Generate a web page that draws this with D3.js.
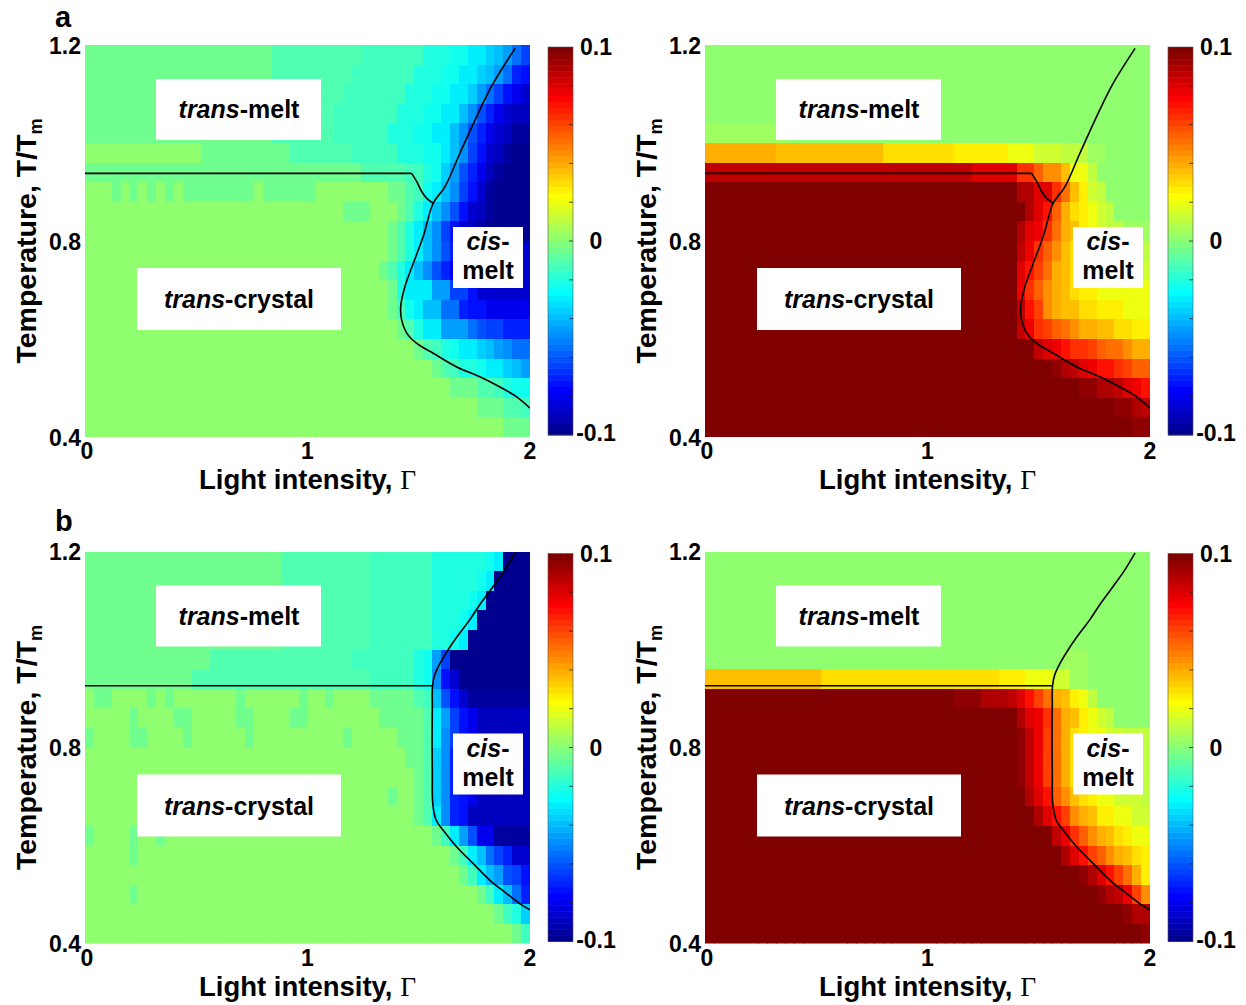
<!DOCTYPE html>
<html><head><meta charset="utf-8">
<script src="https://cdnjs.cloudflare.com/ajax/libs/d3/7.8.5/d3.min.js"></script>
<style>
body{margin:0;background:#fff}
svg{display:block}
text{font-family:"Liberation Sans",Arial,sans-serif;font-weight:bold;fill:#000}
</style>
</head><body>
<svg id="chart" width="1246" height="1005"></svg>
<script>
// ---------------- DATA ----------------
// Level alphabet: value = -0.1 + index*0.005  (A=-0.1, U=0, o=+0.1)
const LEVELS = "ABCDEFGHIJKLMNOPQRSTUVWXYZabcdefghijklmno";
// Rows from top (T=1.2) to bottom (T=0.4); 50 columns (Γ 0..2), run-length coded "<level><count>"
const panelA_left = [
"T21 S10 R7 Q3 P2 O2 N1 M1 L1 J1 H1",
"T21 S9 R7 Q3 P2 O2 N1 M1 L1 J1 G1 F1",
"T21 S8 R7 Q3 P2 O2 N1 L1 J1 H1 F1 E1 D1",
"T21 S7 R7 Q3 P2 O2 M1 K1 I1 G1 E1 D1 C2",
"T21 S7 R6 Q3 P2 O2 M1 K1 I1 G1 E1 D1 C1 B2",
"U13 T10 S7 R5 Q3 P2 O1 M1 K1 H1 F1 D1 C1 B1 A2",
"T31 S5 R2 Q1 P1 N1 L1 I1 G1 E1 C1 B1 A3",
"U3 T1 U1 T1 U1 T1 U1 T1 U1 T8 U1 T6 U8 T2 S1 R1 P1 O1 M1 K1 H1 F1 D1 B1 A4",
"U29 T3 U3 T1 S1 Q1 O1 M1 K1 I1 F1 D1 C1 B1 A4",
"U34 T1 S1 Q1 O1 M1 K1 H1 F1 D1 C1 B1 A5",
"U34 T1 S1 Q1 O1 M1 K1 I1 G1 E1 D7",
"U33 T1 S1 Q1 O1 M1 K1 I1 G1 E1 D8",
"U34 T1 Q1 O3 L2 H2 F1 D6",
"U34 T1 R1 P1 O1 M2 J2 G1 F2 E5",
"U35 T1 S1 Q1 O2 L3 J1 I1 H2 G3",
"U37 T1 S1 R1 Q1 P1 O2 N1 M1 L1 K1 J2",
"U39 T1 S1 R1 Q2 P1 O2 N1 M1 L1",
"U41 T3 S2 R1 Q1 P2",
"U44 T3 S2 R1",
"U47 T3"
];
const panelA_right = [
"U50","U50","U50","U50",
"V9 U41",
"c8 b12 a8 Z6 Y3 X3 W3 V2 U5",
"l30 k5 h2 f1 d2 b1 Y2 W1 U6",
"o35 m2 k2 h1 e1 b1 Z1 X1 W1 U5",
"o36 m1 k1 i1 f1 c1 a1 Z1 Y1 X1 W1 U4",
"o35 m1 k1 j1 h1 e1 c1 b1 Z1 Y1 X1 W2 V3",
"o35 l1 j1 h1 f1 d1 b1 a1 Z1 Y2 X2 W3",
"o35 k1 i1 g1 e1 c1 b1 a1 Z1 Y4 X3",
"o35 j1 h1 f1 d1 c1 b1 a1 Z2 Y6",
"o35 l1 i1 g1 d1 c1 b2 a2 Z3 Y3",
"o35 l1 j1 h1 g1 f1 e1 d1 c2 b2 a2 Z2",
"o37 l1 k1 j1 i1 h2 g1 f1 e2 d1 c2",
"o39 n1 m1 l1 k1 j1 i2 h1 g1 f2",
"o42 n2 m2 l1 k1 j1 i1",
"o46 n2 m1 l1",
"o48 n2"
];
const panelB_left = [
"T22 S10 R7 Q6 P1 O1 A3",
"T22 S10 R7 Q5 P1 O1 A4",
"T22 S10 R7 Q4 P1 O1 A5",
"T22 S10 R7 Q3 P1 O1 A6",
"T22 S10 R7 Q2 P1 O1 A7",
"T14 S16 R7 Q1 P1 L1 H1 A9",
"T12 S20 R5 Q1 P1 K1 F1 D1 A8",
"U1 T2 U4 T1 U1 T1 U7 T1 U6 T1 U2 T1 U4 T5 S1 R1 M1 I1 F1 D1 B7",
"U5 T1 U4 T2 U5 T2 U4 T2 U8 T5 S1 O1 L1 H1 F1 E1 C6",
"T1 U4 T2 U4 T1 U6 T1 U10 T1 U5 T3 S1 O1 K1 H1 F1 E1 C6",
"U36 T2 S1 N1 K1 G1 F1 E1 C6",
"U37 T1 S1 N1 K1 G1 E1 D1 C6",
"U34 T1 U2 T1 S1 N1 K1 G1 F1 E1 C6",
"U37 T1 S1 O1 K1 G1 F1 C7",
"T1 U4 T1 U2 T1 U30 T1 R1 O1 L1 I1 E2 B4",
"U5 T1 U35 T1 R1 O1 M1 J1 H1 G1 D2",
"U42 T1 R1 O1 M1 L1 I1 H1 F1",
"U5 T1 U38 T1 R1 O1 M1 J1 G1",
"U46 T1 R1 Q1 N1",
"U48 T1 R1"
];
const panelB_right = [
"U50","U50","U50","U50","U50",
"U40 V3 U7",
"b13 a20 Z3 Y3 X2 V2 U7",
"o28 n3 m3 l1 k1 i1 g1 e1 c1 b1 Z1 Y1 W1 U6",
"o35 m1 k1 j1 h1 e1 c1 b1 Z1 Y1 X1 W1 U4",
"o35 n1 l1 j1 g1 e1 c1 a1 Z1 Y2 X2 W3",
"o35 n1 l1 j1 g1 e1 c1 a1 Z1 Y2 X2 W3",
"o35 n1 l1 j1 g1 e1 c1 a1 Z1 Y2 X2 W3",
"o36 m1 k1 i1 f1 d1 b1 a1 Z1 Y2 X3 W1",
"o37 m1 k1 i1 g1 d1 c1 b1 Z2 Y2 X2",
"o39 l1 j1 h1 f1 d1 c1 b1 a1 Z1 Y2",
"o40 m1 k1 i1 g1 f1 d1 c1 b1 a1 Z1",
"o42 n1 m1 k1 i1 g1 e1 c1 Z1",
"o44 n1 m1 l1 j1 g1 d1",
"o47 n1 m2",
"o49 n1"
];

// phase boundaries [Γ, T/Tm]
const boundaryA_main = [[1.933,1.193],[1.835,1.122],[1.760,1.054],[1.685,0.979],[1.618,0.911],[1.565,0.877],[1.520,0.809],[1.476,0.755],[1.438,0.707],[1.419,0.666],[1.423,0.639],[1.446,0.612],[1.491,0.591],[1.565,0.571],[1.671,0.543],[1.775,0.523],[1.865,0.502],[1.940,0.482],[2.0,0.459]];
const boundaryA_flat = [[0,0.938],[1.468,0.938]];
const boundaryA_dip = [[1.468,0.938],[1.491,0.921],[1.513,0.901],[1.536,0.887],[1.565,0.877]];
const boundaryB_main = [[1.933,1.197],[1.888,1.163],[1.835,1.129],[1.775,1.092],[1.730,1.061],[1.685,1.034],[1.633,1.0],[1.596,0.972],[1.573,0.950],[1.562,0.926],[1.561,0.883],[1.560,0.815],[1.561,0.747],[1.563,0.686],[1.578,0.652],[1.610,0.631],[1.671,0.597],[1.745,0.563],[1.820,0.529],[1.895,0.502],[1.955,0.481],[2.0,0.469]];
const boundaryB_flat = [[0,0.926],[1.562,0.926]];

const gammaTicks = [0, 1, 2];
const tempTicks = [0.4, 0.8, 1.2];
const cbarLabels = [0.1, 0, -0.1];
const cbarMinorTicks = [-0.08,-0.06,-0.04,-0.02,0,0.02,0.04,0.06,0.08];

// ---------------- DRAWING ----------------
const svg = d3.select("#chart");
const W = 445, H = 392;
const CMIN = -0.1, CMAX = 0.1, NCOL = 64;

function jetRGB(i){ // MATLAB jet(64), i in 1..64
  const c = v => Math.max(0, Math.min(1, v));
  const r = c(Math.min((i-24)/16, (72-i)/16));
  const g = c(Math.min((i-8)/16, (56-i)/16));
  const b = c(Math.min((i+8)/16, (40-i)/16));
  return d3.rgb(Math.round(r*255), Math.round(g*255), Math.round(b*255)).toString();
}
function colorOf(v){
  let i = Math.floor((v - CMIN)/(CMAX - CMIN)*NCOL + 1e-9) + 1;
  i = Math.max(1, Math.min(NCOL, i));
  return jetRGB(i);
}
function decode(rows){
  return rows.map(r => {
    const out = [];
    r.trim().split(/\s+/).forEach(tok => {
      const n = +tok.slice(1);
      for (let k=0;k<n;k++) out.push(-0.1 + LEVELS.indexOf(tok[0])*0.005);
    });
    if (out.length !== 50) console.warn("row length", out.length, r);
    return out;
  });
}

const panels = [
  {data: panelA_left,  x0: 85,  y0: 45,  main: boundaryA_main, flats: [boundaryA_flat], dips: [boundaryA_dip], letter: "a"},
  {data: panelA_right, x0: 705, y0: 45,  main: boundaryA_main, flats: [boundaryA_flat], dips: [boundaryA_dip]},
  {data: panelB_left,  x0: 85,  y0: 551.5, main: boundaryB_main, flats: [boundaryB_flat], dips: [], letter: "b"},
  {data: panelB_right, x0: 705, y0: 551.5, main: boundaryB_main, flats: [boundaryB_flat], dips: []}
];

const defs = svg.append("defs");

panels.forEach((p, pi) => {
  const x = d3.scaleLinear().domain([0, 2]).range([p.x0, p.x0 + W]);
  const y = d3.scaleLinear().domain([0.4, 1.2]).range([p.y0 + H, p.y0]);
  const grid = decode(p.data);
  const nr = grid.length, nc = grid[0].length;
  const dG = 2/nc, dT = 0.8/nr;
  const cells = [];
  grid.forEach((row, r) => row.forEach((v, c) => cells.push({g0: c*dG, g1: (c+1)*dG, t0: 1.2-(r+1)*dT, t1: 1.2-r*dT, v})));

  defs.append("clipPath").attr("id", "clip"+pi)
    .append("rect").attr("x", p.x0).attr("y", p.y0).attr("width", W).attr("height", H);

  const g = svg.append("g");
  g.append("g").attr("clip-path", `url(#clip${pi})`).attr("shape-rendering", "crispEdges")
    .selectAll("rect").data(cells).join("rect")
    .attr("x", d => x(d.g0)).attr("y", d => y(d.t1))
    .attr("width", d => x(d.g1) - x(d.g0) + 0.6)
    .attr("height", d => y(d.t0) - y(d.t1) + 0.6)
    .attr("fill", d => colorOf(d.v));

  // boundaries
  const curved = d3.line().x(d => x(d[0])).y(d => y(d[1])).curve(d3.curveCatmullRom.alpha(0.5));
  const straight = d3.line().x(d => x(d[0])).y(d => y(d[1]));
  const lg = g.append("g").attr("clip-path", `url(#clip${pi})`)
    .attr("fill","none").attr("stroke","#000").attr("stroke-width",1.6);
  p.flats.forEach(f => lg.append("path").attr("d", straight(f)));
  p.dips.forEach(f => lg.append("path").attr("d", curved(f)));
  lg.append("path").attr("d", curved(p.main));

  // phase labels
  const boxes = [
    {x: 71, y: 34, w: 165, h: 61},
    {x: 52, y: 223, w: 204, h: 62},
    {x: 368, y: 182, w: 70, h: 61}
  ];
  boxes.forEach(b => g.append("rect").attr("x", p.x0+b.x).attr("y", p.y0+b.y).attr("width", b.w).attr("height", b.h).attr("fill","#fff"));
  const FS = 25;
  const t1 = g.append("text").attr("x", p.x0+154).attr("y", p.y0+73).attr("text-anchor","middle").attr("font-size", FS);
  t1.append("tspan").attr("font-style","italic").text("trans");
  t1.append("tspan").text("-melt");
  const t2 = g.append("text").attr("x", p.x0+154).attr("y", p.y0+263).attr("text-anchor","middle").attr("font-size", FS);
  t2.append("tspan").attr("font-style","italic").text("trans");
  t2.append("tspan").text("-crystal");
  const t3 = g.append("text").attr("x", p.x0+403).attr("y", p.y0+205).attr("text-anchor","middle").attr("font-size", FS);
  t3.append("tspan").attr("font-style","italic").text("cis");
  t3.append("tspan").text("-");
  g.append("text").attr("x", p.x0+403).attr("y", p.y0+234).attr("text-anchor","middle").attr("font-size", FS).text("melt");

  // tick labels
  gammaTicks.forEach(t => g.append("text").attr("x", x(t)+ (t===0?2:0)).attr("y", p.y0+H+22)
     .attr("text-anchor","middle").attr("font-size", 23).text(t));
  tempTicks.forEach(t => g.append("text").attr("x", p.x0-4).attr("y", y(t)+8.5)
     .attr("text-anchor","end").attr("font-size", 23).text(t.toFixed(1)));

  // axis titles
  const xt = g.append("text").attr("x", p.x0+W/2).attr("y", p.y0+H+52).attr("text-anchor","middle").attr("font-size", 27.5);
  xt.append("tspan").text("Light intensity, ");
  xt.append("tspan").attr("font-family","'Liberation Serif','Times New Roman',serif").attr("font-weight","normal").text("Γ");
  const yt = g.append("text").attr("transform", `translate(${p.x0-49},${p.y0+H/2}) rotate(-90)`)
    .attr("text-anchor","middle").attr("font-size", 28.5);
  yt.append("tspan").text("Temperature, T/T");
  yt.append("tspan").attr("font-size", 18).attr("dy", 6).text("m");

  // colorbar
  const cbx = p.x0 + W + 18, cbw = 25;
  const cy = d3.scaleLinear().domain([CMIN, CMAX]).range([p.y0 + H - 2, p.y0 + 2]);
  const steps = d3.range(1, NCOL+1);
  g.append("g").selectAll("rect").data(steps).join("rect")
    .attr("x", cbx).attr("width", cbw)
    .attr("y", i => cy(CMIN + i*(CMAX-CMIN)/NCOL))
    .attr("height", i => cy(CMIN + (i-1)*(CMAX-CMIN)/NCOL) - cy(CMIN + i*(CMAX-CMIN)/NCOL) + 0.5)
    .attr("fill", i => jetRGB(i));
  g.append("rect").attr("x", cbx).attr("y", cy(CMAX)).attr("width", cbw).attr("height", cy(CMIN)-cy(CMAX))
    .attr("fill","none").attr("stroke","#555").attr("stroke-width",0.6);
  cbarMinorTicks.forEach(t => g.append("line").attr("x1", cbx+cbw-4).attr("x2", cbx+cbw).attr("y1", cy(t)).attr("y2", cy(t))
    .attr("stroke","#222").attr("stroke-width",0.8));
  cbarLabels.forEach(t => g.append("text").attr("x", cbx + cbw + 23).attr("y", cy(t) + (t>0?8:(t<0?6:8)))
    .attr("text-anchor","middle").attr("font-size", 23).text(t===0?"0":String(t)));

  if (p.letter) {
    g.append("text").attr("x", 55).attr("y", p.letter==="a" ? 26.5 : 531).attr("font-size", 29).text(p.letter);
  }
});
</script>
</body></html>
